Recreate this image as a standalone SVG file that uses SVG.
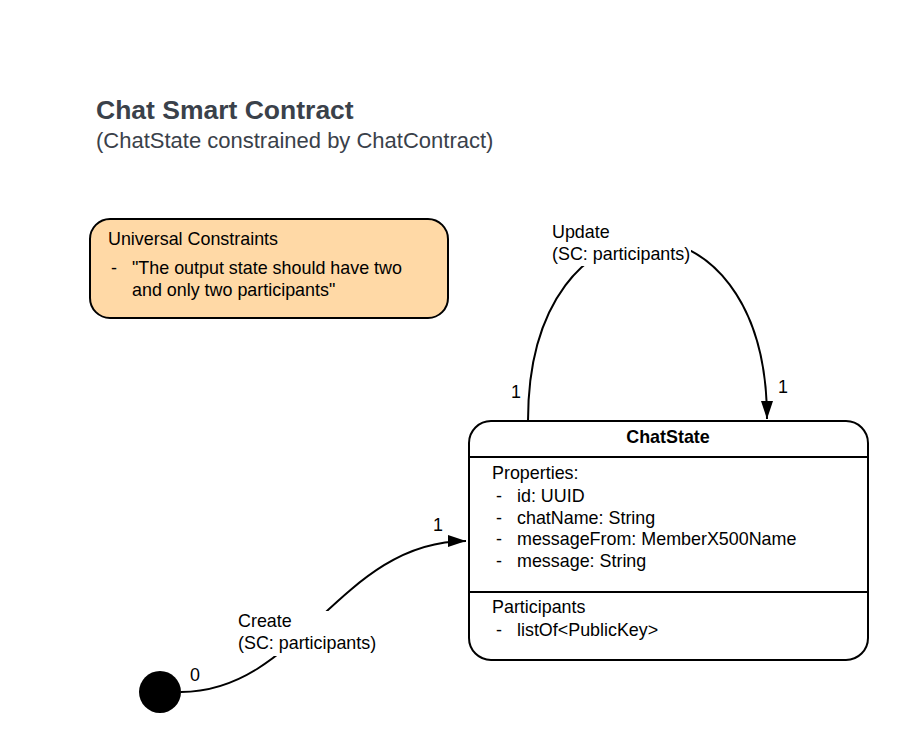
<svg xmlns="http://www.w3.org/2000/svg" width="908" height="753" viewBox="0 0 908 753">
<defs>
<style>
text{font-family:"Liberation Sans",Arial,sans-serif;font-size:17.9px;fill:#000}
.title{font-size:26.5px;font-weight:bold;fill:#3a414a}
.sub{font-size:22px;fill:#3a414a}
.b{font-weight:bold}
.box{stroke:#000;stroke-width:2}
.conn{fill:none;stroke:#000;stroke-width:2}
</style>
<marker id="arr" markerUnits="userSpaceOnUse" markerWidth="20" markerHeight="14" refX="18" refY="6" orient="auto">
<path d="M0,0 L18,6 L0,12 z" fill="#000"/>
</marker>
</defs>
<rect width="908" height="753" fill="#fff"/>
<g id="title">
<text class="title" x="96" y="119">Chat Smart Contract</text>
<text class="sub" x="96" y="148">(ChatState constrained by ChatContract)</text>
</g>
<g id="connectors">
<path class="conn" d="M181,692 C300,692 340,541 466,541" marker-end="url(#arr)"/>
<path class="conn" d="M528,421 C528,180 767,180 767,419" marker-end="url(#arr)"/>
<rect x="236" y="611" width="143" height="45" fill="#fff"/>
<rect x="550" y="221" width="141" height="45" fill="#fff"/>
<text x="238" y="627">Create</text>
<text x="238" y="649">(SC: participants)</text>
<text x="552" y="238">Update</text>
<text x="552" y="260">(SC: participants)</text>
<text x="190" y="681">0</text>
<text x="433" y="531">1</text>
<text x="511" y="398">1</text>
<text x="778" y="393">1</text>
</g>
<g id="constraints">
<rect class="box" x="90" y="219" width="358" height="99" rx="20" fill="#ffd9a6"/>
<text x="108" y="245">Universal Constraints</text>
<text x="111" y="274">-</text>
<text x="132" y="274">"The output state should have two</text>
<text x="132" y="296">and only two participants"</text>
</g>
<g id="initial">
<circle cx="160" cy="692" r="21" fill="#000"/>
</g>
<g id="chatstate">
<rect class="box" x="469" y="421" width="399" height="239" rx="22" fill="#fff"/>
<line class="box" x1="469" y1="457" x2="868" y2="457"/>
<line class="box" x1="469" y1="592" x2="868" y2="592"/>
<text class="b" x="668" y="443" text-anchor="middle">ChatState</text>
<text x="492" y="479">Properties:</text>
<text x="496" y="502">-</text><text x="517" y="502">id: UUID</text>
<text x="496" y="524">-</text><text x="517" y="524">chatName: String</text>
<text x="496" y="545">-</text><text x="517" y="545">messageFrom: MemberX500Name</text>
<text x="496" y="567">-</text><text x="517" y="567">message: String</text>
<text x="492" y="613">Participants</text>
<text x="496" y="636">-</text><text x="517" y="636">listOf&lt;PublicKey&gt;</text>
</g>
</svg>
